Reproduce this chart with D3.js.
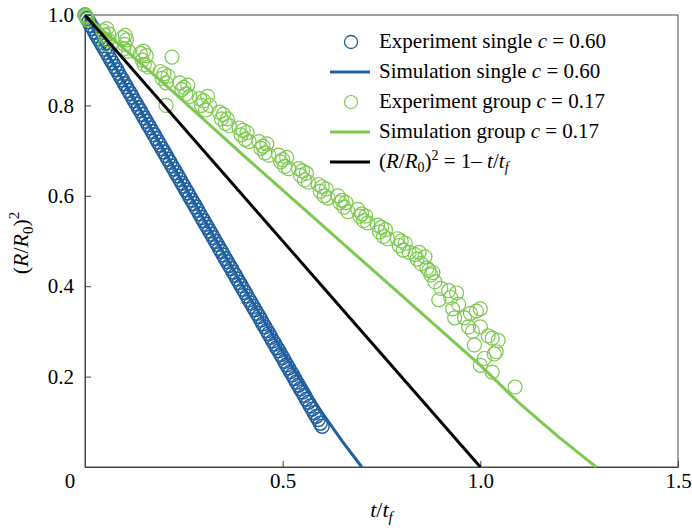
<!DOCTYPE html>
<html lang="en">
    <head>
        <meta charset="utf-8">
        <title>Droplet evaporation: (R/R0)^2 vs t/tf</title>
        <script type="text/javascript" src="https://cdn.jsdelivr.net/npm/d3@7"></script>
        <style type="text/css">
            body { margin: 0; background: #fff; }
            svg text { font-family: "Liberation Serif", "Times New Roman", serif; fill: #000; }
        </style>
    </head>

    <body>
        <script type="text/javascript">
            // Experiment, single droplet (c = 0.60)
            var singleExpT = [0.000, 0.005, 0.010, 0.015, 0.020, 0.025, 0.030, 0.035, 0.040, 0.045,
                              0.050, 0.055, 0.060, 0.065, 0.070, 0.075, 0.080, 0.085, 0.090, 0.095,
                              0.100, 0.105, 0.110, 0.115, 0.120, 0.125, 0.130, 0.135, 0.140, 0.145,
                              0.150, 0.155, 0.160, 0.165, 0.170, 0.175, 0.180, 0.185, 0.190, 0.195,
                              0.200, 0.205, 0.210, 0.215, 0.220, 0.225, 0.230, 0.235, 0.240, 0.245,
                              0.250, 0.255, 0.260, 0.265, 0.270, 0.275, 0.280, 0.285, 0.290, 0.295,
                              0.300, 0.305, 0.310, 0.315, 0.320, 0.325, 0.330, 0.335, 0.340, 0.345,
                              0.350, 0.355, 0.360, 0.365, 0.370, 0.375, 0.380, 0.385, 0.390, 0.395,
                              0.400, 0.405, 0.410, 0.415, 0.420, 0.425, 0.430, 0.435, 0.440, 0.445,
                              0.450, 0.455, 0.460, 0.465, 0.470, 0.475, 0.480, 0.485, 0.490, 0.495,
                              0.500, 0.505, 0.510, 0.515, 0.520, 0.525, 0.530, 0.535, 0.540, 0.545,
                              0.550, 0.555, 0.560, 0.565, 0.570, 0.575, 0.580, 0.585, 0.590, 0.595,
                              0.600];
            var singleExpR2 = [1.000, 0.992, 0.985, 0.977, 0.970, 0.962, 0.954, 0.947, 0.939, 0.932,
                               0.924, 0.917, 0.909, 0.901, 0.894, 0.886, 0.879, 0.871, 0.863, 0.856,
                               0.848, 0.841, 0.833, 0.826, 0.818, 0.810, 0.803, 0.795, 0.788, 0.780,
                               0.772, 0.765, 0.757, 0.750, 0.742, 0.735, 0.727, 0.719, 0.712, 0.704,
                               0.697, 0.689, 0.681, 0.674, 0.666, 0.659, 0.651, 0.644, 0.636, 0.628,
                               0.621, 0.613, 0.606, 0.598, 0.590, 0.583, 0.575, 0.568, 0.560, 0.552,
                               0.545, 0.537, 0.530, 0.522, 0.515, 0.507, 0.499, 0.492, 0.484, 0.477,
                               0.469, 0.461, 0.454, 0.446, 0.439, 0.431, 0.424, 0.416, 0.408, 0.401,
                               0.393, 0.386, 0.378, 0.370, 0.363, 0.355, 0.348, 0.340, 0.333, 0.325,
                               0.317, 0.310, 0.302, 0.295, 0.287, 0.279, 0.272, 0.264, 0.257, 0.249,
                               0.242, 0.234, 0.226, 0.219, 0.211, 0.204, 0.196, 0.188, 0.181, 0.173,
                               0.166, 0.158, 0.150, 0.143, 0.135, 0.128, 0.120, 0.112, 0.105, 0.097,
                               0.090];

            // Simulation, single droplet
            var singleSimT  = [0, 0.1, 0.2, 0.3, 0.4, 0.5, 0.55, 0.6, 0.65, 0.70];
            var singleSimR2 = [1, 0.85, 0.70, 0.55, 0.40, 0.255, 0.185, 0.12, 0.058, 0];

            // Experiment, droplet group (c = 0.17)
            var groupExpT = [0.000, 0.003, 0.006, 0.002,
                             0.045, 0.050, 0.055, 0.058, 0.052, 0.060,
                             0.095, 0.100, 0.105, 0.098, 0.110, 0.102,
                             0.140, 0.145, 0.150, 0.155, 0.148, 0.160,
                             0.220, 0.205,
                             0.190, 0.195, 0.200, 0.205, 0.210,
                             0.240, 0.245, 0.250, 0.255, 0.260, 0.265,
                             0.290, 0.295, 0.300, 0.305, 0.310, 0.315,
                             0.340, 0.345, 0.350, 0.355, 0.360, 0.365,
                             0.390, 0.395, 0.400, 0.405, 0.410, 0.415,
                             0.440, 0.445, 0.450, 0.455, 0.460, 0.465,
                             0.490, 0.495, 0.500, 0.505, 0.510, 0.515,
                             0.540, 0.545, 0.550, 0.555, 0.560, 0.565,
                             0.590, 0.595, 0.600, 0.605, 0.610, 0.615,
                             0.640, 0.645, 0.650, 0.655, 0.660, 0.665,
                             0.690, 0.695, 0.700, 0.705, 0.710, 0.715,
                             0.740, 0.745, 0.750, 0.755, 0.760, 0.765,
                             0.790, 0.795, 0.800, 0.805, 0.810, 0.820,
                             0.835, 0.840, 0.845, 0.850, 0.860, 0.865,
                             0.870, 0.875, 0.880, 0.885, 0.900, 0.895,
                             0.920, 0.925, 0.930, 0.940, 0.945, 0.935,
                             0.960, 0.970, 0.975, 0.980, 0.990, 1.000, 0.985, 1.000,
                             1.010, 1.020, 1.030, 1.035, 1.030, 1.040, 1.000, 1.045,
                             1.088];
            var groupExpR2 = [1.000, 0.995, 0.990, 0.998,
                              0.965, 0.955, 0.970, 0.945, 0.935, 0.958,
                              0.950, 0.935, 0.945, 0.925, 0.920, 0.955,
                              0.915, 0.900, 0.890, 0.910, 0.920, 0.885,
                              0.907, 0.800,
                              0.875, 0.860, 0.870, 0.850, 0.865,
                              0.850, 0.835, 0.840, 0.825, 0.845, 0.820,
                              0.815, 0.800, 0.810, 0.790, 0.820, 0.800,
                              0.785, 0.770, 0.780, 0.760, 0.770, 0.755,
                              0.750, 0.735, 0.745, 0.725, 0.740, 0.720,
                              0.720, 0.705, 0.710, 0.695, 0.715, 0.690,
                              0.690, 0.675, 0.680, 0.665, 0.685, 0.660,
                              0.660, 0.645, 0.655, 0.635, 0.650, 0.630,
                              0.625, 0.610, 0.620, 0.600, 0.615, 0.595,
                              0.600, 0.585, 0.590, 0.575, 0.585, 0.565,
                              0.570, 0.555, 0.560, 0.545, 0.555, 0.540,
                              0.535, 0.520, 0.530, 0.510, 0.525, 0.505,
                              0.505, 0.490, 0.500, 0.480, 0.495, 0.475,
                              0.470, 0.460, 0.475, 0.450, 0.465, 0.440,
                              0.435, 0.425, 0.430, 0.410, 0.395, 0.370,
                              0.390, 0.375, 0.350, 0.385, 0.360, 0.330,
                              0.330, 0.310, 0.340, 0.300, 0.345, 0.350, 0.270, 0.310,
                              0.240, 0.290, 0.285, 0.250, 0.210, 0.255, 0.225, 0.280,
                              0.177];

            // Simulation, droplet group
            var groupSimT  = [0, 0.2, 0.4, 0.6, 0.8, 1.0, 1.1, 1.2, 1.25, 1.293];
            var groupSimR2 = [1, 0.848, 0.69, 0.535, 0.38, 0.225, 0.14, 0.065, 0.03, 0];

            // d^2 law reference line
            var lawT  = [0, 1];
            var lawR2 = [1, 0];

            var xTicks = [0.5, 1.0, 1.5];
            var yTicks = [0.2, 0.4, 0.6, 0.8, 1.0];

            var blue = "#1f60a0";
            var green = "#7cc94f";
            var serif = "'Liberation Serif', 'Times New Roman', serif";

            var w = 692;
            var h = 528;

            var xScale = d3.scaleLinear()
                            .domain([0, 1.5])
                            .range([85, 678]);

            var yScale = d3.scaleLinear()
                            .domain([0, 1])
                            .range([467, 15]);

            var svg = d3.select("body")
                        .append("svg")
                        .attr("width", w)
                        .attr("height", h);

            // Box around the plot (top and right sides have no ticks)
            svg.append("rect")
                .attr("x", xScale(0))
                .attr("y", yScale(1))
                .attr("width", xScale(1.5) - xScale(0))
                .attr("height", yScale(0) - yScale(1))
                .attr("fill", "none")
                .attr("stroke", "#444")
                .attr("stroke-width", 1);

            // Axes, ticks pointing inward
            var xAxis = svg.append("g")
                .attr("transform", "translate(0," + yScale(0) + ")")
                .call(d3.axisBottom(xScale)
                    .tickValues(xTicks)
                    .tickFormat(d3.format(".1f"))
                    .tickSizeInner(-6)
                    .tickSizeOuter(0)
                    .tickPadding(6));

            var yAxis = svg.append("g")
                .attr("transform", "translate(" + xScale(0) + ",0)")
                .call(d3.axisLeft(yScale)
                    .tickValues(yTicks)
                    .tickFormat(d3.format(".1f"))
                    .tickSizeInner(-6)
                    .tickSizeOuter(0)
                    .tickPadding(11));

            [xAxis, yAxis].forEach(function(ax) {
                ax.attr("font-family", null).attr("font-size", null);
                ax.select(".domain").attr("stroke", "#444");
                ax.selectAll(".tick line").attr("stroke", "#444");
                ax.selectAll(".tick text")
                    .attr("fill", "#000")
                    .style("font-family", serif)
                    .style("font-size", "21px");
            });

            // Shared zero label at the corner
            svg.append("text")
                .attr("x", 70)
                .attr("y", 488)
                .attr("text-anchor", "middle")
                .style("font-size", "21px")
                .text("0");

            // Axis titles
            var xTitle = svg.append("text")
                .attr("x", (xScale(0) + xScale(1.5)) / 2)
                .attr("y", 517)
                .attr("text-anchor", "middle")
                .style("font-size", "22px");
            xTitle.append("tspan").attr("font-style", "italic").text("t");
            xTitle.append("tspan").text("/");
            xTitle.append("tspan").attr("font-style", "italic").text("t");
            xTitle.append("tspan").attr("font-style", "italic").style("font-size", "15px").attr("dy", 5).text("f");

            var yTitle = svg.append("text")
                .attr("transform", "translate(28,243) rotate(-90)")
                .attr("text-anchor", "middle")
                .style("font-size", "22px");
            yTitle.append("tspan").text("(");
            yTitle.append("tspan").attr("font-style", "italic").text("R");
            yTitle.append("tspan").text("/");
            yTitle.append("tspan").attr("font-style", "italic").text("R");
            yTitle.append("tspan").style("font-size", "15px").attr("dy", 5).text("0");
            yTitle.append("tspan").attr("dy", -5).text(")");
            yTitle.append("tspan").style("font-size", "15px").attr("dy", -9).text("2");

            // Series
            var line = d3.line()
                .x(function(d) { return xScale(d[0]); })
                .y(function(d) { return yScale(d[1]); });

            function pairs(xs, ys) {
                return xs.map(function(x, i) { return [x, ys[i]]; });
            }

            var plot = svg.append("g");

            plot.selectAll("circle.single")
                .data(pairs(singleExpT, singleExpR2))
                .enter()
                .append("circle")
                .attr("class", "single")
                .attr("cx", function(d) { return xScale(d[0]); })
                .attr("cy", function(d) { return yScale(d[1]); })
                .attr("r", 7)
                .attr("fill", "none")
                .attr("stroke", blue)
                .attr("stroke-width", 1.5);

            plot.append("path")
                .datum(pairs(singleSimT, singleSimR2))
                .attr("d", line)
                .attr("fill", "none")
                .attr("stroke", blue)
                .attr("stroke-width", 3);

            plot.selectAll("circle.group")
                .data(pairs(groupExpT, groupExpR2))
                .enter()
                .append("circle")
                .attr("class", "group")
                .attr("cx", function(d) { return xScale(d[0]); })
                .attr("cy", function(d) { return yScale(d[1]); })
                .attr("r", 7)
                .attr("fill", "none")
                .attr("stroke", green)
                .attr("stroke-width", 1.2);

            plot.append("path")
                .datum(pairs(groupSimT, groupSimR2))
                .attr("d", line)
                .attr("fill", "none")
                .attr("stroke", green)
                .attr("stroke-width", 3);

            plot.append("path")
                .datum(pairs(lawT, lawR2))
                .attr("d", line)
                .attr("fill", "none")
                .attr("stroke", "#000")
                .attr("stroke-width", 3);

            // Legend
            var legend = svg.append("g").attr("transform", "translate(330,42)");
            var rowH = 30;

            function addLabel(row, parts) {
                var t = legend.append("text")
                    .attr("x", 49)
                    .attr("y", row * rowH + 6)
                    .style("font-size", "21px");
                parts.forEach(function(p) {
                    var s = t.append("tspan").text(p.s);
                    if (p.i) s.attr("font-style", "italic");
                    if (p.sz) s.style("font-size", p.sz);
                    if (p.dy) s.attr("dy", p.dy);
                });
            }

            legend.append("circle").attr("cx", 21).attr("cy", 0).attr("r", 6.5)
                .attr("fill", "none").attr("stroke", blue).attr("stroke-width", 1.3);
            addLabel(0, [{s: "Experiment single "}, {s: "c", i: true}, {s: " = 0.60"}]);

            legend.append("line").attr("x1", 0).attr("x2", 40).attr("y1", rowH).attr("y2", rowH)
                .attr("stroke", blue).attr("stroke-width", 3);
            addLabel(1, [{s: "Simulation single "}, {s: "c", i: true}, {s: " = 0.60"}]);

            legend.append("circle").attr("cx", 21).attr("cy", 2 * rowH).attr("r", 6.5)
                .attr("fill", "none").attr("stroke", green).attr("stroke-width", 1.2);
            addLabel(2, [{s: "Experiment group "}, {s: "c", i: true}, {s: " = 0.17"}]);

            legend.append("line").attr("x1", 0).attr("x2", 40).attr("y1", 3 * rowH).attr("y2", 3 * rowH)
                .attr("stroke", green).attr("stroke-width", 3);
            addLabel(3, [{s: "Simulation group "}, {s: "c", i: true}, {s: " = 0.17"}]);

            legend.append("line").attr("x1", 0).attr("x2", 40).attr("y1", 4 * rowH).attr("y2", 4 * rowH)
                .attr("stroke", "#000").attr("stroke-width", 3);
            addLabel(4, [{s: "("}, {s: "R", i: true}, {s: "/"}, {s: "R", i: true},
                         {s: "0", sz: "14px", dy: 4}, {s: ")", dy: -4}, {s: "2", sz: "14px", dy: -8},
                         {s: " = 1\u2013 ", dy: 8}, {s: "t", i: true}, {s: "/"}, {s: "t", i: true},
                         {s: "f", i: true, sz: "14px", dy: 4}]);
        </script>
    </body>
</html>
